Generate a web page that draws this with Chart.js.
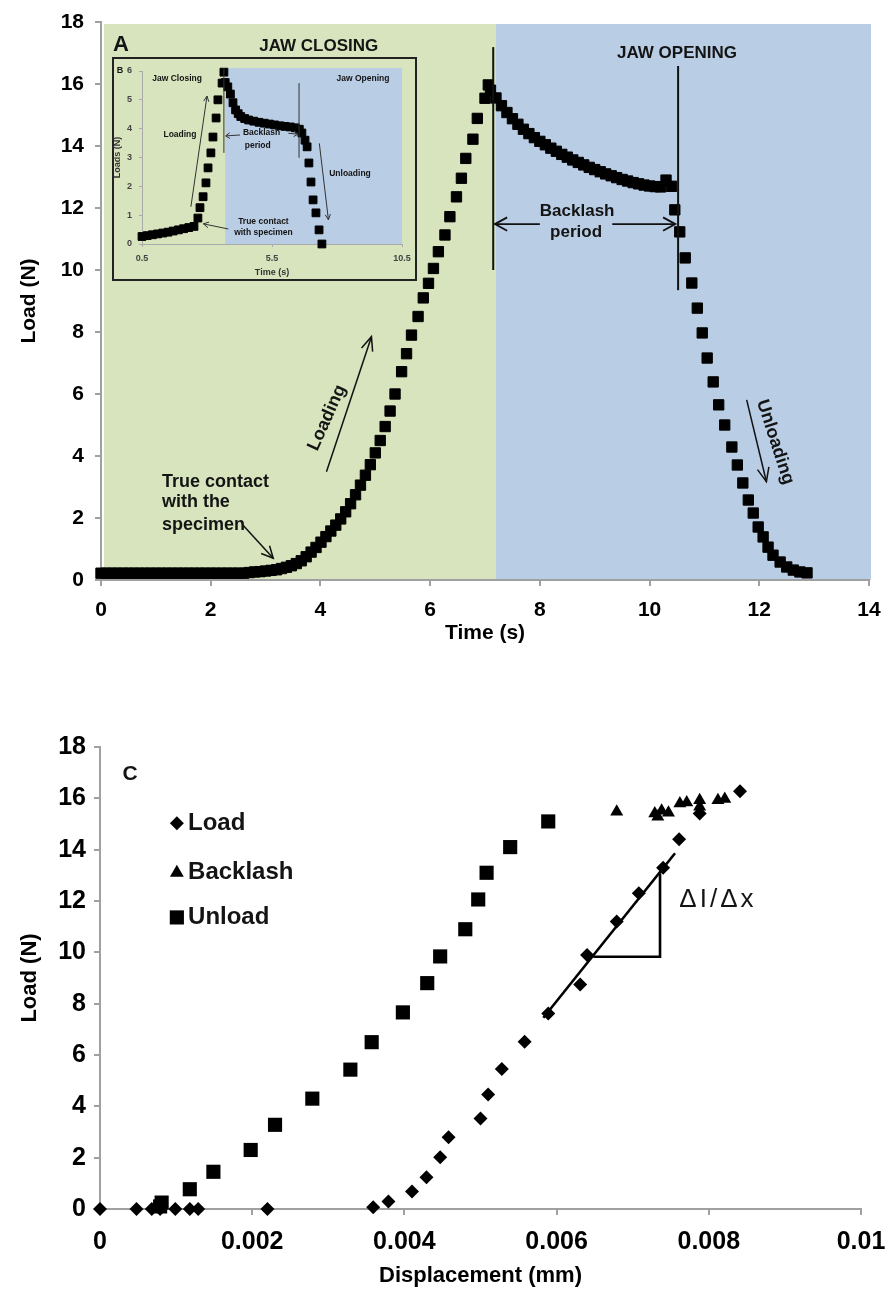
<!DOCTYPE html>
<html><head><meta charset="utf-8">
<script src="https://cdn.jsdelivr.net/npm/chart.js@4.4.0/dist/chart.umd.min.js"></script>
<style>
html,body{margin:0;padding:0;background:#fff;}
#wrap{position:relative;width:886px;height:1291px;overflow:hidden;background:#fff;}
canvas{position:absolute;display:block;}
#c1{left:0;top:0;}
#c2{left:112px;top:57px;}
#c3{left:0;top:690px;}
</style></head><body>
<div id="wrap">
<canvas id="c1" width="886" height="660"></canvas>
<canvas id="c2" width="305" height="224"></canvas>
<canvas id="c3" width="886" height="601"></canvas>
</div>
<script>
// ---------- Panel A (main): Load vs Time ----------
const timeA = [
0,0.1,0.2,0.3,0.4,0.5,0.6,0.7,0.8,0.9,1.0,1.1,1.2,1.3,1.4,1.5,1.6,1.7,1.8,1.9,2.0,2.1,2.2,2.3,2.4,2.5,2.6,2.7,2.8,2.9,3.0,3.1,
3.2,3.29,3.38,3.47,3.56,3.65,3.74,3.83,3.92,4.01,4.1,4.19,4.28,4.37,4.46,4.55,4.64,4.73,4.82,4.91,5.0,5.09,5.18,5.27,5.36,
5.48,5.57,5.66,5.78,5.875,5.97,6.06,6.15,6.27,6.36,6.48,6.57,6.65,6.78,6.86,7.0,7.06,
7.1,7.2,7.3,7.4,7.5,7.6,7.7,7.8,7.9,8.0,8.1,8.2,8.3,8.4,8.5,8.6,8.7,8.8,8.9,9.0,9.1,9.2,9.3,9.4,9.5,9.6,9.7,9.8,9.9,10.0,10.1,10.2,10.3,10.4,
10.46,10.55,10.65,10.77,10.87,10.96,11.05,11.16,11.26,11.37,11.5,11.6,11.7,11.8,11.89,11.98,12.07,12.16,12.25,12.38,12.5,12.62,12.74,12.87];
const loadA = [
0.22,0.22,0.22,0.22,0.22,0.22,0.22,0.22,0.22,0.22,0.22,0.22,0.22,0.22,0.22,0.22,0.22,0.22,0.22,0.22,0.22,0.22,0.22,0.22,0.22,0.22,0.22,0.24,0.26,0.27,0.29,0.31,
0.33,0.37,0.41,0.46,0.53,0.62,0.75,0.9,1.05,1.22,1.4,1.58,1.77,1.97,2.2,2.46,2.75,3.06,3.38,3.72,4.1,4.5,4.95,5.45,6.0,
6.72,7.3,7.9,8.5,9.1,9.57,10.05,10.59,11.13,11.72,12.36,12.96,13.6,14.22,14.89,15.54,15.97,
15.8,15.55,15.3,15.08,14.88,14.7,14.54,14.4,14.27,14.15,14.04,13.93,13.83,13.73,13.64,13.55,13.47,13.39,13.31,13.24,13.17,13.1,13.04,12.98,12.92,12.87,12.82,12.78,12.74,12.71,12.69,12.68,12.9,12.7,
11.94,11.23,10.39,9.58,8.77,7.97,7.16,6.39,5.65,5.0,4.29,3.71,3.13,2.58,2.16,1.71,1.39,1.06,0.8,0.58,0.42,0.32,0.26,0.23];
const phaseBoundaryA = 7.2;          // jaw closing | jaw opening
const xRangeA = [0, 14], yRangeA = [0, 18];

// ---------- Panel B (inset) ----------
const insetTime = [0.5,0.7,0.9,1.1,1.3,1.5,1.7,1.9,2.1,2.3,2.5,
2.65,2.73,2.85,2.96,3.04,3.15,3.23,3.35,3.42,3.58,3.65,
3.7,3.8,3.9,4.0,4.1,4.2,4.3,4.45,4.6,4.8,5.0,5.2,5.4,5.6,5.8,6.0,6.2,6.4,6.55,6.65,6.77,6.85,
6.92,7.0,7.08,7.19,7.31,7.42];
const insetLoad = [0.26,0.29,0.32,0.35,0.38,0.41,0.45,0.49,0.53,0.57,0.61,
0.9,1.26,1.64,2.12,2.64,3.16,3.71,4.37,5.0,5.58,5.96,
5.6,5.45,5.2,4.9,4.65,4.52,4.42,4.35,4.3,4.26,4.22,4.19,4.16,4.13,4.1,4.08,4.06,4.03,3.98,3.85,3.6,3.37,
2.81,2.15,1.53,1.08,0.49,0.0];
const insetXTicks = [0.5, 5.5, 10.5];
const insetPhaseBoundary = 3.7;

// ---------- Panel C: Load vs Displacement ----------
const dispLoad = [0,0.00048,0.00068,0.00079,0.00099,0.00118,0.00129,0.0022,0.00359,0.00379,0.0041,0.00429,0.00447,0.00458,0.005,0.0051,0.00528,0.00558,0.00589,0.00631,0.0064,0.00679,0.00708,0.0074,0.00761,0.00788,0.00841];
const loadLoad = [0,0,0,0,0,0,0,0,0.07,0.29,0.68,1.24,2.02,2.8,3.53,4.46,5.45,6.52,7.62,8.75,9.9,11.2,12.3,13.3,14.41,15.41,16.28];
const dispBacklash = [0.00679,0.00729,0.00733,0.00738,0.00747,0.00762,0.00771,0.00788,0.00788,0.00812,0.00821];
const loadBacklash = [15.48,15.41,15.28,15.52,15.44,15.8,15.84,15.93,15.67,15.93,15.97];
const dispUnload = [0.00079,0.00081,0.00118,0.00149,0.00198,0.0023,0.00279,0.00329,0.00357,0.00398,0.0043,0.00447,0.0048,0.00497,0.00508,0.00539,0.00589];
const loadUnload = [0.1,0.25,0.77,1.45,2.3,3.28,4.3,5.43,6.5,7.66,8.8,9.84,10.9,12.06,13.1,14.1,15.1];
const fitDisp = [0.005826, 0.007556];
const fitLoad = [7.45, 13.86];
const slopeDisp = [0.006482, 0.007359, 0.007359];
const slopeLoad = [9.83, 9.83, 13.08];
const xTicksC = [0, 0.002, 0.004, 0.006, 0.008, 0.01];
const xTickLabelsC = ['0', '0.002', '0.004', '0.006', '0.008', '0.01'];
const seriesNamesC = ['Load', 'Backlash', 'Unload'];

const FONT = '"Liberation Sans", Arial, Helvetica, sans-serif';
const GREEN = '#d7e4bd', BLUE = '#b9cde5', AXIS = '#a0a0a0';
const pts = (xs, ys) => xs.map((v, i) => ({x: v, y: ys[i]}));

function arrow(ctx, x1, y1, x2, y2, head, ang) {
  head = head || 12; ang = ang || 0.45;
  ctx.beginPath(); ctx.moveTo(x1, y1); ctx.lineTo(x2, y2); ctx.stroke();
  const a = Math.atan2(y2 - y1, x2 - x1);
  ctx.beginPath();
  ctx.moveTo(x2 - head * Math.cos(a - ang), y2 - head * Math.sin(a - ang));
  ctx.lineTo(x2, y2);
  ctx.lineTo(x2 - head * Math.cos(a + ang), y2 - head * Math.sin(a + ang));
  ctx.stroke();
}
function txt(ctx, s, x, y, font, align, rot, spacing) {
  ctx.save();
  ctx.font = font; ctx.fillStyle = '#141414';
  if (spacing) ctx.letterSpacing = spacing;
  ctx.textAlign = align || 'center'; ctx.textBaseline = 'middle';
  ctx.translate(x, y);
  if (rot) ctx.rotate(rot);
  ctx.fillText(s, 0, 0);
  ctx.restore();
}
function noPad(s) { s.paddingLeft = 0; s.paddingRight = 0; s.paddingTop = 0; s.paddingBottom = 0; }
function axisCfg(o) {
  return {
    type: 'linear', min: o.min, max: o.max,
    ticks: Object.assign({color: o.tickColor || '#000', font: {family: FONT, size: o.tickSize, weight: 'bold'}, padding: o.tickPad}, o.ticks || {}),
    grid: {display: true, drawOnChartArea: false, drawTicks: true, tickLength: o.tickLen, color: o.axisColor || AXIS, lineWidth: o.lw || 2},
    border: {display: true, color: o.axisColor || AXIS, width: o.lw || 2},
    title: {display: true, text: o.title, color: o.titleColor || '#000', font: {family: FONT, size: o.titleSize, weight: 'bold'}, padding: o.titlePad},
    afterFit: s => { o.fit(s); noPad(s); },
    afterBuildTicks: o.afterBuildTicks
  };
}

// ---------- Chart A ----------
const bgA = {
  id: 'bgA',
  beforeDraw(chart) {
    const {ctx, chartArea: ca, scales: {x}} = chart;
    const xb = x.getPixelForValue(phaseBoundaryA);
    ctx.save();
    ctx.fillStyle = GREEN; ctx.fillRect(ca.left + 3, ca.top + 2, xb - ca.left - 3, ca.bottom - ca.top - 2);
    ctx.fillStyle = BLUE; ctx.fillRect(xb, ca.top + 2, ca.right + 2 - xb, ca.bottom - ca.top - 2);
    ctx.restore();
  }
};
const annA = {
  id: 'annA',
  afterDatasetsDraw(chart) {
    const {ctx, scales: {x, y}} = chart;
    const X = v => x.getPixelForValue(v), Y = v => y.getPixelForValue(v);
    ctx.save();
    ctx.strokeStyle = '#111'; ctx.lineWidth = 2;
    ctx.beginPath(); ctx.moveTo(X(7.15), Y(17.19)); ctx.lineTo(X(7.15), Y(10.0)); ctx.stroke();
    ctx.beginPath(); ctx.moveTo(X(10.52), Y(16.58)); ctx.lineTo(X(10.52), Y(9.35)); ctx.stroke();
    ctx.lineWidth = 1.8;
    arrow(ctx, X(8.0), Y(11.48), X(7.18), Y(11.48), 14, 0.5);
    arrow(ctx, X(9.32), Y(11.48), X(10.47), Y(11.48), 14, 0.5);
    ctx.lineWidth = 1.5;
    arrow(ctx, X(4.11), Y(3.49), X(4.93), Y(7.85), 15, 0.4);
    arrow(ctx, X(2.59), Y(1.77), X(3.14), Y(0.7), 13, 0.45);
    arrow(ctx, X(11.77), Y(5.81), X(12.13), Y(3.17), 15, 0.4);
    const f17 = 'bold 17px ' + FONT, f18 = 'bold 18px ' + FONT;
    txt(ctx, 'A', X(0.22), Y(17.26), 'bold 22px ' + FONT, 'left');
    txt(ctx, 'JAW CLOSING', X(3.97), Y(17.23), f17);
    txt(ctx, 'JAW OPENING', X(10.5), Y(17.0), f17);
    txt(ctx, 'Backlash', X(8.68), Y(11.9), f17);
    txt(ctx, 'period', X(8.66), Y(11.23), f17);
    txt(ctx, 'Loading', X(4.12), Y(5.23), f18, 'center', -65.8 * Math.PI / 180);
    txt(ctx, 'Unloading', X(12.29), Y(4.45), f18, 'center', 72 * Math.PI / 180);
    txt(ctx, 'True contact', X(1.11), Y(3.16), f18, 'left');
    txt(ctx, 'with the', X(1.11), Y(2.52), f18, 'left');
    txt(ctx, 'specimen', X(1.11), Y(1.77), f18, 'left');
    ctx.restore();
  }
};
new Chart(document.getElementById('c1'), {
  type: 'scatter',
  data: {datasets: [{label: 'Load', data: pts(timeA, loadA), pointStyle: 'rect', pointRadius: 7.3,
    backgroundColor: '#000', borderColor: '#000', borderWidth: 1, clip: false}]},
  options: {
    responsive: false, animation: false, events: [],
    layout: {padding: {left: 0, right: 17, top: 22, bottom: 10}},
    plugins: {legend: {display: false}, tooltip: {enabled: false}},
    scales: {
      x: axisCfg({min: xRangeA[0], max: xRangeA[1], tickSize: 21, tickPad: 12, tickLen: 6, ticks: {stepSize: 2},
        title: 'Time (s)', titleSize: 21, titlePad: {top: 0, bottom: 4},
        fit: s => { s.height = 70; }}),
      y: axisCfg({min: yRangeA[0], max: yRangeA[1], tickSize: 21, tickPad: 11, tickLen: 6, ticks: {stepSize: 2},
        title: 'Load (N)', titleSize: 21, titlePad: {top: 17, bottom: 0},
        fit: s => { s.width = 101; }})
    }
  },
  plugins: [bgA, annA]
});

// ---------- Chart B (inset) ----------
const bgB = {
  id: 'bgB',
  beforeDraw(chart) {
    const {ctx, width, height, scales: {x, y}} = chart;
    ctx.save();
    ctx.fillStyle = GREEN; ctx.fillRect(0, 0, width, height);
    ctx.fillStyle = BLUE;
    const x0 = x.getPixelForValue(insetPhaseBoundary), x1 = x.getPixelForValue(10.5);
    const y0 = y.getPixelForValue(6.1), y1 = y.getPixelForValue(0);
    ctx.fillRect(x0, y0, x1 - x0, y1 - y0);
    ctx.strokeStyle = '#222'; ctx.lineWidth = 2;
    ctx.strokeRect(1, 1, width - 2, height - 2);
    ctx.restore();
  }
};
const annB = {
  id: 'annB',
  afterDatasetsDraw(chart) {
    const {ctx, scales: {x, y}} = chart;
    const X = v => x.getPixelForValue(v), Y = v => y.getPixelForValue(v);
    ctx.save();
    ctx.strokeStyle = '#333'; ctx.lineWidth = 1;
    ctx.beginPath(); ctx.moveTo(X(3.65), Y(6.1)); ctx.lineTo(X(3.65), Y(3.16)); ctx.stroke();
    ctx.beginPath(); ctx.moveTo(X(6.54), Y(5.58)); ctx.lineTo(X(6.54), Y(2.99)); ctx.stroke();
    arrow(ctx, X(2.38), Y(1.29), X(3.0), Y(5.13), 6, 0.45);
    arrow(ctx, X(4.27), Y(3.78), X(3.72), Y(3.75), 5, 0.6);
    arrow(ctx, X(6.13), Y(3.84), X(6.5), Y(3.81), 5, 0.6);
    arrow(ctx, X(7.32), Y(3.49), X(7.67), Y(0.84), 6, 0.45);
    arrow(ctx, X(3.82), Y(0.52), X(2.86), Y(0.7), 6, 0.5);
    const f = 'bold 8.5px ' + FONT;
    txt(ctx, 'B', X(-0.35), Y(6.0), 'bold 9px ' + FONT);
    txt(ctx, 'Jaw Closing', X(1.85), Y(5.75), f);
    txt(ctx, 'Jaw Opening', X(9.0), Y(5.75), f);
    txt(ctx, 'Loading', X(1.96), Y(3.78), f);
    txt(ctx, 'Backlash', X(5.1), Y(3.85), f);
    txt(ctx, 'period', X(4.95), Y(3.42), f);
    txt(ctx, 'Unloading', X(8.5), Y(2.45), f);
    txt(ctx, 'True contact', X(5.17), Y(0.78), f);
    txt(ctx, 'with specimen', X(5.17), Y(0.38), f);
    ctx.restore();
  }
};
new Chart(document.getElementById('c2'), {
  type: 'scatter',
  data: {datasets: [{label: 'Load', data: pts(insetTime, insetLoad), pointStyle: 'rect', pointRadius: 5.5,
    backgroundColor: '#000', borderColor: '#000', borderWidth: 1, clip: false}]},
  options: {
    responsive: false, animation: false, events: [],
    layout: {padding: {left: 0, right: 15, top: 14, bottom: 0}},
    plugins: {legend: {display: false}, tooltip: {enabled: false}},
    scales: {
      x: axisCfg({min: 0.5, max: 10.5, tickSize: 9, tickPad: 6, tickLen: 3, lw: 1, axisColor: '#aaa', tickColor: '#444',
        ticks: {callback: v => String(v)},
        afterBuildTicks: s => { s.ticks = insetXTicks.map(v => ({value: v})); },
        title: 'Time (s)', titleSize: 9, titleColor: '#333', titlePad: {top: 0, bottom: 2.6},
        fit: s => { s.height = 37; }}),
      y: axisCfg({min: 0, max: 6, tickSize: 9, tickPad: 7, tickLen: 3, lw: 1, axisColor: '#aaa', tickColor: '#444',
        ticks: {stepSize: 1},
        title: 'Loads (N)', titleSize: 9, titleColor: '#333', titlePad: {top: 0, bottom: 0},
        fit: s => { s.width = 30; }})
    }
  },
  plugins: [bgB, annB]
});

// ---------- Chart C ----------
const annC = {
  id: 'annC',
  afterDatasetsDraw(chart) {
    const {ctx, scales: {x, y}} = chart;
    const X = v => x.getPixelForValue(v), Y = v => y.getPixelForValue(v);
    ctx.save();
    txt(ctx, 'C', X(0.000394), Y(16.95), 'bold 21px ' + FONT);
    const styles = ['rectRot', 'triangle', 'rect'];
    const radii = [7, 8, 10];
    const rows = [15.03, 13.1, 11.36];
    seriesNamesC.forEach((name, i) => {
      ctx.fillStyle = '#000';
      Chart.helpers.drawPoint(ctx, {pointStyle: styles[i], radius: radii[i], rotation: 0, borderWidth: 0}, X(0.00101), Y(rows[i]));
      txt(ctx, name, X(0.001157), Y(rows[i]), 'bold 24px ' + FONT, 'left');
    });
    txt(ctx, '\u0394I/\u0394x', X(0.00812), Y(12.04), '26px ' + FONT, 'center', 0, '3px');
    ctx.restore();
  }
};
new Chart(document.getElementById('c3'), {
  type: 'scatter',
  data: {datasets: [
    {label: 'Load', data: pts(dispLoad, loadLoad), pointStyle: 'rectRot', pointRadius: 7, backgroundColor: '#000', borderWidth: 0, clip: false},
    {label: 'Backlash', data: pts(dispBacklash, loadBacklash), pointStyle: 'triangle', pointRadius: 7.5, backgroundColor: '#000', borderWidth: 0, clip: false},
    {label: 'Unload', data: pts(dispUnload, loadUnload), pointStyle: 'rect', pointRadius: 10, backgroundColor: '#000', borderWidth: 0, clip: false},
    {label: 'fit', data: pts(fitDisp, fitLoad), showLine: true, pointRadius: 0, borderColor: '#000', borderWidth: 2.6, clip: false},
    {label: 'slope', data: pts(slopeDisp, slopeLoad), showLine: true, pointRadius: 0, borderColor: '#000', borderWidth: 2.6, clip: false}
  ]},
  options: {
    responsive: false, animation: false, events: [],
    layout: {padding: {left: 0, right: 25, top: 57, bottom: 0}},
    plugins: {legend: {display: false}, tooltip: {enabled: false}},
    scales: {
      x: axisCfg({min: 0, max: 0.01, tickSize: 25, tickPad: 11.7, tickLen: 6,
        ticks: {callback: (v, i) => xTickLabelsC[i]},
        afterBuildTicks: s => { s.ticks = xTicksC.map(v => ({value: v})); },
        title: 'Displacement (mm)', titleSize: 22, titlePad: {top: 0, bottom: 1.8},
        fit: s => { s.height = 82; }}),
      y: axisCfg({min: 0, max: 18, tickSize: 25, tickPad: 8, tickLen: 6, ticks: {stepSize: 2},
        title: 'Load (N)', titleSize: 22, titlePad: {top: 16.8, bottom: 0},
        fit: s => { s.width = 100; }})
    }
  },
  plugins: [annC]
});
</script>
</body></html>
